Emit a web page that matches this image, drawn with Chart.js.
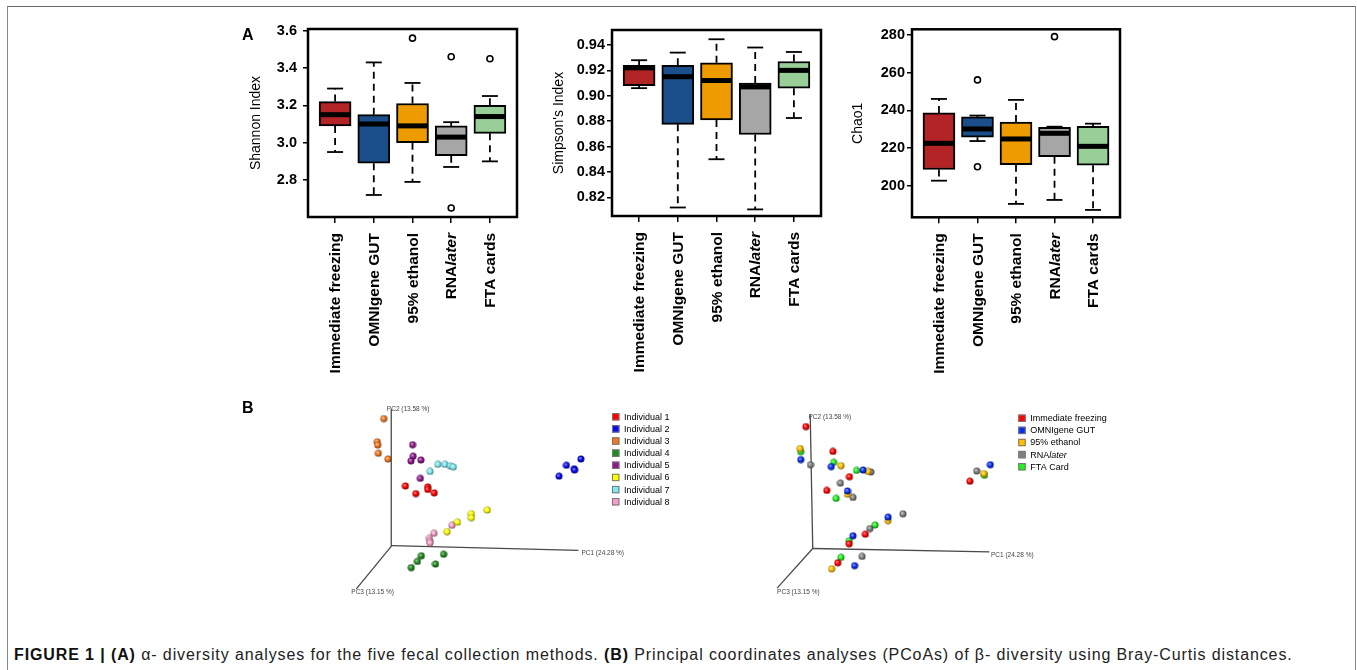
<!DOCTYPE html>
<html>
<head>
<meta charset="utf-8">
<script src="https://cdn.jsdelivr.net/npm/chart.js@4.4.0/dist/chart.umd.min.js"></script>
<style>
  body { margin: 0; background: #fff; }
  #page { position: relative; width: 1357px; height: 670px; overflow: hidden; background: #fff;
          font-family: "Liberation Sans", Arial, sans-serif; }
  #frame { position: absolute; left: 7px; top: 6px; width: 1347px; height: 700px;
           border-top: 1px solid #666; border-left: 1.5px solid #888; border-right: 1.5px solid #888; }
  canvas { position: absolute; }
  .panel { position: absolute; font-weight: bold; font-size: 16px; line-height: 16px; color: #000; }
  #caption { position: absolute; left: 14px; top: 645px; font-size: 16px; line-height: 20px;
             letter-spacing: 0.89px; color: #222; white-space: nowrap; }
  #caption b { color: #111; }
</style>
</head>
<body>
<div id="page">
  <div id="frame"></div>
  <canvas id="shannon" width="300" height="370" style="left:230px;top:14px"></canvas>
  <canvas id="simpson" width="290" height="370" style="left:540px;top:18px"></canvas>
  <canvas id="chao" width="290" height="370" style="left:840px;top:18px"></canvas>
  <canvas id="pcoaLeft" width="330" height="210" style="left:340px;top:400px"></canvas>
  <canvas id="pcoaRight" width="380" height="210" style="left:750px;top:400px"></canvas>
  <div class="panel" style="left:242px;top:27px">A</div>
  <div class="panel" style="left:242px;top:400px">B</div>
  <div id="caption"><b>FIGURE 1 | (A)</b> α- diversity analyses for the five fecal collection methods. <b>(B)</b> Principal coordinates analyses (PCoAs) of β- diversity using Bray-Curtis distances.</div>
</div>
<script>
// ===== Data: alpha diversity =====
const methods = ["Immediate freezing", "OMNIgene GUT", "95% ethanol", "RNAlater", "FTA cards"];
const boxColors = ["#B22426", "#1A4F8B", "#EE9B00", "#A6A6A6", "#98CF98"];

const shannonLow = [2.95, 2.72, 2.79, 2.87, 2.90];
const shannonQ1 = [3.09, 2.89, 3.00, 2.93, 3.05];
const shannonMed = [3.15, 3.10, 3.09, 3.03, 3.14];
const shannonQ3 = [3.22, 3.15, 3.21, 3.09, 3.20];
const shannonHigh = [3.29, 3.43, 3.32, 3.11, 3.25];
const shannonOut = [[], [], [3.56], [3.46, 2.65], [3.45]];
const shannonTicks = [2.8, 3.0, 3.2, 3.4, 3.6];

const simpsonLow = [0.906, 0.812, 0.850, 0.8105, 0.8825];
const simpsonQ1 = [0.908, 0.8775, 0.881, 0.8695, 0.906];
const simpsonMed = [0.922, 0.915, 0.912, 0.907, 0.920];
const simpsonQ3 = [0.924, 0.924, 0.926, 0.910, 0.927];
const simpsonHigh = [0.928, 0.934, 0.9445, 0.938, 0.9345];
const simpsonOut = [[], [], [], [], []];
const simpsonTicks = [0.82, 0.84, 0.86, 0.88, 0.90, 0.92, 0.94];

const chaoLow = [202.8, 223.8, 190.5, 192.6, 187.3];
const chaoQ1 = [208.7, 225.8, 211.3, 215.5, 211.0];
const chaoMed = [222.6, 230.2, 224.9, 227.9, 221.0];
const chaoQ3 = [238.7, 236.6, 233.9, 231.1, 231.6];
const chaoHigh = [246.1, 237.3, 245.6, 231.4, 233.0];
const chaoOut = [[], [256.2, 210.2], [], [279.1], []];
const chaoTicks = [200, 220, 240, 260, 280];

// ===== Data: PCoA (projected coordinates, origin = axes corner) =====
const pcAxisNames = ["PC1 (24.28 %)", "PC2 (13.58 %)", "PC3 (13.15 %)"];
const leftAxisEnds = [[192.4, -5.0], [-0.6, 143.7], [-36.6, -45.3]];
const rightAxisEnds = [[181.4, -3.6], [-2.6, 140.7], [-36.6, -41.6]];

const individualNames = ["Individual 1", "Individual 2", "Individual 3", "Individual 4",
                         "Individual 5", "Individual 6", "Individual 7", "Individual 8"];
const individualColors = ["#FF0000", "#0A0AF0", "#F07820", "#1E8B1E", "#8E1A8E", "#FFFF00", "#80E8F0", "#F4A0C8"];
const ind1 = [[14.0, 62.7], [24.7, 54.7], [37.0, 61.7], [37.0, 59.0], [43.7, 55.4]];
const ind2 = [[172.4, 73.0], [180.0, 84.4], [188.0, 80.7], [188.4, 79.4], [195.0, 91.0]];
const ind3 = [[-8.3, 133.4], [-15.0, 109.0], [-14.6, 105.7], [-14.0, 97.0], [-4.0, 91.0]];
const ind4 = [[30.4, -10.6], [53.4, -9.0], [26.4, -16.6], [45.0, -19.3], [20.0, -23.0]];
const ind5 = [[21.4, 106.0], [22.0, 94.0], [19.7, 89.0], [30.0, 90.0], [29.4, 70.7]];
const ind6 = [[98.4, 37.4], [82.0, 33.4], [82.0, 29.4], [67.7, 24.7], [57.0, 14.7]];
const ind7 = [[39.4, 78.0], [47.4, 85.4], [54.7, 85.4], [60.4, 83.7], [63.4, 82.7]];
const ind8 = [[62.0, 21.4], [43.4, 13.0], [38.7, 7.7], [39.0, 5.0], [39.4, 3.0]];
const individuals = [ind1, ind2, ind3, ind4, ind5, ind6, ind7, ind8];

const methodNames = ["Immediate freezing", "OMNIgene GUT", "95% ethanol", "RNAlater", "FTA Card"];
const methodColors = ["#FF0000", "#0A2EF0", "#FFC000", "#808080", "#22EE22"];
const immFreezing = [[-7.0, 128.0], [20.7, 102.0], [37.7, 75.4], [14.4, 61.0], [161.4, 70.7], [54.0, 15.0], [37.4, 5.0], [25.7, -15.0]];
const omnigene = [[-12.3, 93.4], [19.0, 86.0], [51.7, 82.4], [35.7, 60.4], [182.4, 88.0], [77.4, 33.0], [41.4, 13.4], [43.0, -18.0]];
const ethanol = [[-13.0, 105.0], [29.0, 87.0], [56.7, 81.0], [35.7, 57.0], [175.7, 78.7], [77.4, 29.4], [19.4, -21.3]];
const rnalater = [[-2.3, 88.0], [59.7, 80.4], [28.4, 68.7], [41.4, 53.7], [168.4, 81.4], [92.7, 36.4], [58.7, 21.0], [50.7, -8.3]];
const ftaCard = [[-12.3, 101.7], [21.4, 90.4], [45.0, 82.0], [24.0, 52.7], [176.4, 77.0], [64.0, 24.7], [37.4, 8.0], [29.0, -9.3]];
const methodPoints = [immFreezing, omnigene, ethanol, rnalater, ftaCard];

const FONT = "'Liberation Sans', Arial, sans-serif";

// draws "RNAlater" with italic "later"
function drawLabel(ctx, text, x, y, size, bold, align) {
    const w = bold ? "bold " : "";
    if (text.startsWith("RNAlater")) {
        ctx.font = `italic ${w}${size}px ${FONT}`;
        const tail = text.slice(3);
        const tw = ctx.measureText(tail).width;
        ctx.font = `${w}${size}px ${FONT}`;
        const hw = ctx.measureText("RNA").width;
        const x0 = align === "right" ? x - tw - hw : x;
        ctx.textAlign = "left";
        ctx.fillText("RNA", x0, y);
        ctx.font = `italic ${w}${size}px ${FONT}`;
        ctx.fillText(tail, x0 + hw, y);
    } else {
        ctx.font = `${w}${size}px ${FONT}`;
        ctx.textAlign = align;
        ctx.fillText(text, x, y);
    }
}

// ===== Box plot extras: whiskers, medians, frame, rotated labels =====
const boxExtras = {
    id: "boxExtras",
    afterDatasetsDraw(chart, args, o) {
        const { ctx, scales: { x, y } } = chart;
        const line = (x1, y1, x2, y2) => { ctx.beginPath(); ctx.moveTo(x1, y1); ctx.lineTo(x2, y2); ctx.stroke(); };
        ctx.save();
        ctx.strokeStyle = "#000";
        o.med.forEach((m, i) => {
            const cx = x.getPixelForValue(i + 1);
            const pLo = y.getPixelForValue(o.low[i]), pHi = y.getPixelForValue(o.high[i]);
            const pQ1 = y.getPixelForValue(o.q1[i]), pQ3 = y.getPixelForValue(o.q3[i]);
            ctx.lineWidth = 1.8;
            ctx.setLineDash([7, 5]);
            line(cx, pQ3, cx, pHi);
            line(cx, pQ1, cx, pLo);
            ctx.setLineDash([]);
            line(cx - 8, pHi, cx + 8, pHi);
            line(cx - 8, pLo, cx + 8, pLo);
            ctx.lineWidth = 5;
            const pm = y.getPixelForValue(m);
            line(cx - 15, pm, cx + 15, pm);
        });
        ctx.restore();
    },
    afterDraw(chart, args, o) {
        const { ctx, chartArea: a, scales: { x } } = chart;
        ctx.save();
        ctx.strokeStyle = "#000";
        ctx.lineWidth = 2.5;
        ctx.strokeRect(a.left, a.top, a.right - a.left, a.bottom - a.top);
        ctx.fillStyle = "#000";
        ctx.textBaseline = "middle";
        methods.forEach((m, i) => {
            ctx.save();
            ctx.translate(x.getPixelForValue(i + 1), a.bottom + 16);
            ctx.rotate(-Math.PI / 2);
            drawLabel(ctx, m, 0, 1, 15.5, true, "right");
            ctx.restore();
        });
        ctx.restore();
    }
};

function boxChart(id, s) {
    const outliers = [];
    s.out.forEach((vals, i) => vals.forEach(v => outliers.push({ x: i + 1, y: v })));
    return new Chart(document.getElementById(id), {
        type: "bar",
        data: {
            datasets: [{
                type: "scatter",
                data: outliers,
                pointStyle: "circle",
                pointRadius: 3,
                backgroundColor: "rgba(0,0,0,0)",
                borderColor: "#000",
                borderWidth: 1.6
            }, {
                type: "bar",
                data: methods.map((m, i) => ({ x: i + 1, y: [s.q1[i], s.q3[i]] })),
                backgroundColor: boxColors,
                borderColor: "#000",
                borderWidth: 2,
                borderSkipped: false,
                barThickness: 32
            }]
        },
        options: {
            responsive: false,
            animation: false,
            events: [],
            layout: { padding: { top: s.pad[0], right: s.pad[1], left: 0, bottom: 0 } },
            plugins: {
                legend: { display: false },
                tooltip: { enabled: false },
                boxExtras: { low: s.low, q1: s.q1, med: s.med, q3: s.q3, high: s.high }
            },
            scales: {
                x: {
                    type: "linear",
                    min: 0.3, max: 5.7,
                    offset: false,
                    afterBuildTicks: sc => { sc.ticks = methods.map((m, i) => ({ value: i + 1 })); },
                    afterFit: sc => { sc.height = s.xh; },
                    ticks: { display: false },
                    grid: { display: true, offset: false, drawOnChartArea: false, drawTicks: true, tickLength: 6, color: "#000", lineWidth: 1.5 },
                    border: { display: false }
                },
                y: {
                    min: s.range[0], max: s.range[1],
                    afterBuildTicks: sc => { sc.ticks = s.ticks.map(v => ({ value: v })); },
                    afterFit: sc => { sc.width = s.yw; },
                    ticks: {
                        color: "#000",
                        padding: s.tickPad,
                        font: { family: FONT, size: 14.5, weight: "bold" },
                        callback: v => s.fmt(v)
                    },
                    grid: { display: true, drawOnChartArea: false, drawTicks: true, tickLength: 5, color: "#000", lineWidth: 1.5 },
                    border: { display: false },
                    title: {
                        display: true, text: s.title, color: "#000",
                        font: { family: FONT, size: 14 },
                        padding: { top: s.titlePad, bottom: 0 }
                    }
                }
            }
        },
        plugins: [boxExtras]
    });
}

boxChart("shannon", {
    low: shannonLow, q1: shannonQ1, med: shannonMed, q3: shannonQ3, high: shannonHigh, out: shannonOut,
    ticks: shannonTicks, range: [2.602, 3.609], fmt: v => v.toFixed(1), title: "Shannon Index",
    pad: [15, 13], xh: 167, yw: 78, tickPad: 6, titlePad: 17.6
});
boxChart("simpson", {
    low: simpsonLow, q1: simpsonQ1, med: simpsonMed, q3: simpsonQ3, high: simpsonHigh, out: simpsonOut,
    ticks: simpsonTicks, range: [0.8053, 0.9518], fmt: v => v.toFixed(2), title: "Simpson's Index",
    pad: [12, 9], xh: 172, yw: 72, tickPad: 2, titlePad: 10.6
});
boxChart("chao", {
    low: chaoLow, q1: chaoQ1, med: chaoMed, q3: chaoQ3, high: chaoHigh, out: chaoOut,
    ticks: chaoTicks, range: [183.4, 283.0], fmt: v => String(v), title: "Chao1",
    pad: [11.3, 10], xh: 170.7, yw: 72, tickPad: 2, titlePad: 10.1
});

// ===== PCoA =====
function shade(hex, f) {
    const n = parseInt(hex.slice(1), 16);
    const r = n >> 16, g = (n >> 8) & 255, b = n & 255;
    const m = v => Math.round(f < 0 ? v * (1 + f) : v + (255 - v) * f);
    return `rgb(${m(r)},${m(g)},${m(b)})`;
}
function sphere(hex) {
    const c = document.createElement("canvas");
    c.width = c.height = 8;
    const g = c.getContext("2d");
    const grd = g.createRadialGradient(3, 3, 0.3, 4, 4, 4);
    grd.addColorStop(0, shade(hex, 0.55));
    grd.addColorStop(0.45, hex);
    grd.addColorStop(1, shade(hex, -0.6));
    g.fillStyle = grd;
    g.beginPath();
    g.arc(4, 4, 3.5, 0, Math.PI * 2);
    g.fill();
    return c;
}

const pcoaExtras = {
    id: "pcoaExtras",
    afterDraw(chart, args, o) {
        const { ctx, scales: { x, y } } = chart;
        ctx.save();
        ctx.fillStyle = "#444";
        ctx.font = `6.5px ${FONT}`;
        ctx.textAlign = "left";
        ctx.textBaseline = "middle";
        o.axisEnds.forEach((e, i) => {
            ctx.fillText(pcAxisNames[i], x.getPixelForValue(e[0]) + o.labelOff[i][0], y.getPixelForValue(e[1]) + o.labelOff[i][1]);
        });
        // legend
        o.names.forEach((n, i) => {
            const cy = o.legend.y + i * o.legend.row;
            ctx.fillStyle = o.colors[i];
            ctx.fillRect(o.legend.x, cy - 3.7, 7.4, 7.4);
            ctx.strokeStyle = "#777";
            ctx.lineWidth = 1;
            ctx.strokeRect(o.legend.x + 0.5, cy - 3.2, 6.4, 6.4);
            ctx.fillStyle = "#000";
            ctx.textBaseline = "middle";
            drawLabel(ctx, n, o.legend.x + 12, cy + 0.5, 9, false, "left");
        });
        ctx.restore();
    }
};

function pcoaChart(id, groups, names, colors, axisEnds, xr, yr, labelOff, legend) {
    const datasets = groups.map((pts, i) => ({
        data: pts.map(p => ({ x: p[0], y: p[1] })),
        pointStyle: sphere(colors[i]),
        order: 0
    }));
    axisEnds.forEach(e => datasets.push({
        data: [{ x: 0, y: 0 }, { x: e[0], y: e[1] }],
        showLine: true,
        borderColor: "#4a4a4a",
        borderWidth: 1.3,
        pointRadius: 0,
        order: 5
    }));
    return new Chart(document.getElementById(id), {
        type: "scatter",
        data: { datasets },
        options: {
            responsive: false,
            animation: false,
            events: [],
            layout: { padding: 0 },
            plugins: {
                legend: { display: false },
                tooltip: { enabled: false },
                pcoaExtras: { axisEnds, labelOff, legend, names, colors }
            },
            scales: {
                x: { display: false, min: xr[0], max: xr[1] },
                y: { display: false, min: yr[0], max: yr[1] }
            }
        },
        plugins: [pcoaExtras]
    });
}

pcoaChart("pcoaLeft", individuals, individualNames, individualColors, leftAxisEnds,
    [-48.3, 281.7], [-62.3, 147.7],
    [[3, 2.6], [-4.4, 0], [-5, 3.7]],
    { x: 272, y: 16.7, row: 12.15 });
pcoaChart("pcoaRight", methodPoints, methodNames, methodColors, rightAxisEnds,
    [-59.3, 320.7], [-59.3, 150.7],
    [[1.6, 3], [-1.7, 2.3], [0, 4.4]],
    { x: 268.3, y: 18.3, row: 12.1 });
</script>
</body>
</html>
